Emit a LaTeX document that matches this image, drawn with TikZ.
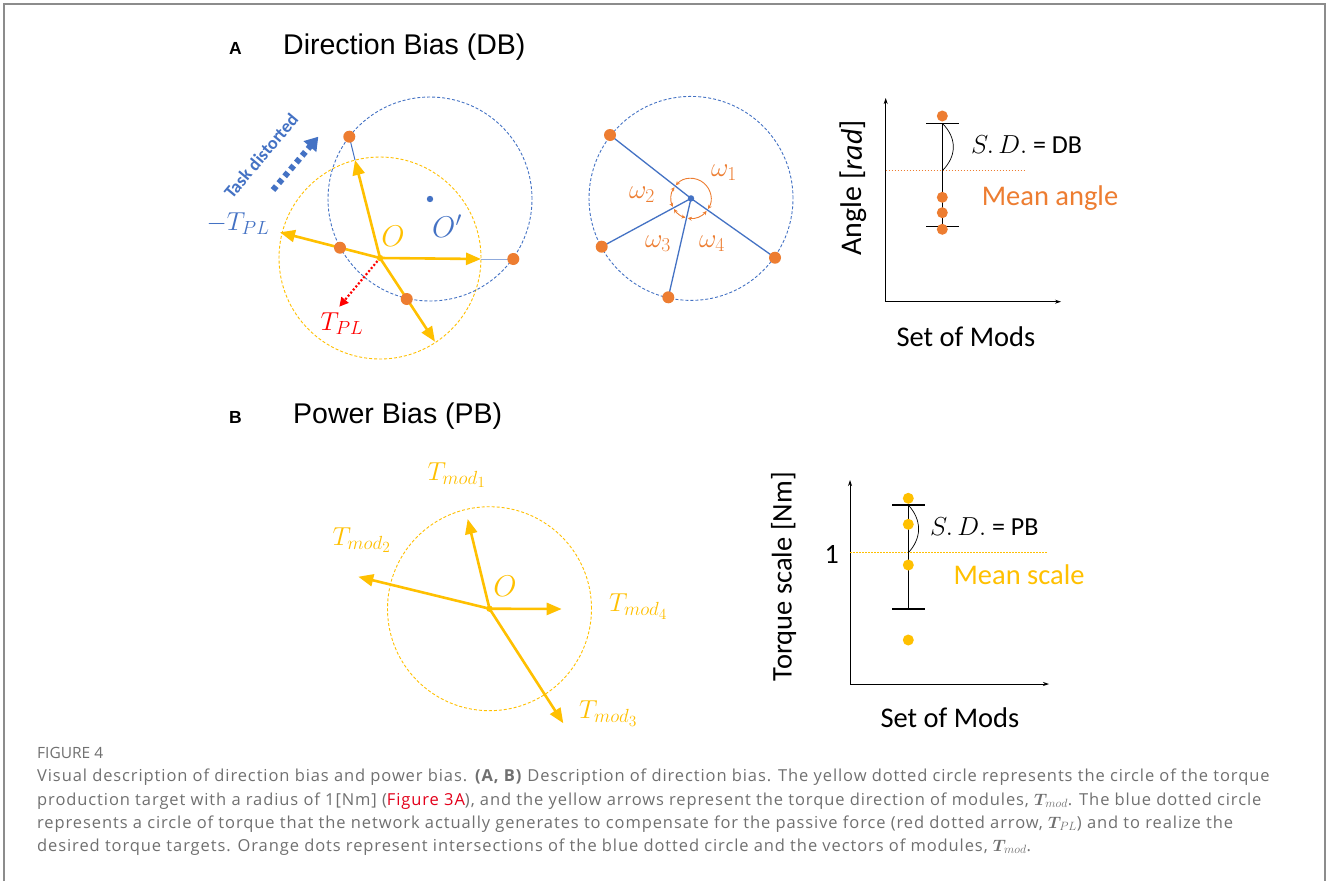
\RequirePackage{fix-cm}
\documentclass[tikz,border=0pt]{standalone}
\usepackage{amsmath}
\usepackage{fontspec}
\setmainfont{Carlito}
\newfontfamily\arial{Liberation Sans}
\newfontfamily\capfont[LetterSpace=5.5]{Open Sans}
\newfontfamily\capfontb{Open Sans}
\usetikzlibrary{arrows.meta}
\DeclareMathSizes{26}{26}{19}{15.5}
\DeclareMathSizes{27}{27}{19.7}{16}
\DeclareMathSizes{30}{30}{21}{16}
\DeclareMathSizes{16.5}{16.5}{12}{9}
\definecolor{yel}{HTML}{FFC000}
\definecolor{ora}{HTML}{ED7D31}
\definecolor{blu}{HTML}{4472C4}
\definecolor{capgray}{HTML}{707070}
\definecolor{framegray}{HTML}{8C8C8C}
\definecolor{figred}{HTML}{E3001B}
\newcommand{\fs}[1]{\fontsize{#1}{#1}\selectfont}
\tikzset{
  ycirc/.style={yel, line width=0.9pt, dash pattern=on 3pt off 2pt},
  bcirc/.style={blu, line width=0.9pt, dash pattern=on 3pt off 2pt},
  yarrow/.style={yel, line width=2.6pt, -{Triangle[length=15pt,width=12pt]}},
  bline/.style={blu, line width=1.3pt},
  odot/.style={ora},
  lab/.style={inner sep=0pt},
  arcarrow/.style={ora, line width=0.9pt, {Stealth[length=4pt,width=4pt]}-{Stealth[length=4pt,width=4pt]}},
  axis/.style={black, line width=0.8pt, -{Stealth[length=6pt,width=4pt]}},
  ebar/.style={black, line width=1.3pt},
  capline/.style={anchor=base west, inner sep=0pt, text=capgray, font=\capfont\fs{16.5}}
}
\begin{document}
\begin{tikzpicture}[x=1pt,y=-1pt]
\useasboundingbox (0,0) rectangle (1327,881);
\fill[white] (0,0) rectangle (1327,881);
\draw[framegray, line width=2pt] (3.5,881) -- (3.5,4) -- (1325,4) -- (1325,881);

% ---------------- Titles
\node[lab, anchor=west, font=\arial\bfseries\fs{17.5}] (tA) at (229,48) {A};
\node[lab, anchor=west, font=\arial\fs{28.5}] (tAt) at (283,47) {Direction Bias (DB)};
\node[lab, anchor=west, font=\arial\bfseries\fs{17.5}] (tB) at (229,417) {B};
\node[lab, anchor=west, font=\arial\fs{28.5}] (tBt) at (293,416) {Power Bias (PB)};

% ---------------- Panel A left
\coordinate (O) at (380,258);
\coordinate (Op) at (430,199);
\draw[ycirc] (O) circle (101pt);
\draw[bcirc] (Op) circle (102pt);
\coordinate (A1) at (355,160);
\coordinate (A2) at (280,232.3);
\coordinate (A3) at (481,259);
\coordinate (A4) at (435,341.7);
\coordinate (D1) at (349.3,136.7);
\coordinate (D2) at (340,247.7);
\coordinate (D3) at (513.3,259);
\coordinate (D4) at (406.7,299);
\draw[bline, line width=1pt] (A1) -- (D1);
\draw[bline, line width=1pt, blu!60] (A3) -- (D3);
\draw[red, line width=2.2pt, dash pattern=on 2pt off 2pt, -{Triangle[length=9pt,width=9pt]}] (O) -- (339.3,306.7) coordinate (R);
\draw[yarrow] (O) -- (A1);
\draw[yarrow] (O) -- (A2);
\draw[yarrow] (O) -- (A3);
\draw[yarrow] (O) -- (A4);
\fill[yel] (O) circle (3.2pt);
\foreach \d in {D1,D2,D3,D4} \fill[odot] (\d) circle (6pt);
\fill[blu] (Op) circle (3.2pt);
\node[lab, text=yel, font=\fs{30}] (Olab) at (393,236) {$O$};
\node[lab, text=blu, font=\fs{30}] (Oplab) at (447,226) {$O'$};
\node[lab, text=blu, font=\fs{26}] (mtpl) at (238,224) {$-T_{PL}$};
\node[lab, text=red, font=\fs{26}] (tpl) at (342,324) {$T_{PL}$};
\coordinate (TD1) at (273,190);
\coordinate (TD2) at (318.3,136.7);
\draw[blu, line width=6pt, dash pattern=on 5pt off 4pt, -{Triangle[length=13pt,width=16pt]}] (TD1) -- (TD2);
\node[lab, text=blu, rotate=50, font=\bfseries\fs{18}] (tdl) at (261,156) {Task distorted};

% ---------------- Panel A middle
\coordinate (C) at (691,198.4);
\draw[bcirc] (C) circle (102pt);
\coordinate (M1) at (610,135);
\coordinate (M2) at (601.7,246.7);
\coordinate (M3) at (668.3,297.3);
\coordinate (M4) at (775,257.7);
\foreach \m in {M1,M2,M3,M4} \draw[bline] (C) -- (\m);
\foreach \m in {M1,M2,M3,M4} \fill[odot] (\m) circle (6pt);
\fill[blu] (C) circle (3.2pt);
\draw[arcarrow] (C) ++(221:20) arc[start angle=221, end angle=392, radius=20];
\draw[arcarrow] (C) ++(214:20) arc[start angle=214, end angle=155, radius=20];
\draw[arcarrow] (C) ++(148:20) arc[start angle=148, end angle=106, radius=20];
\draw[arcarrow] (C) ++(99:20) arc[start angle=99, end angle=39, radius=20];
\node[lab, text=ora, font=\fs{27}] (w1) at (724,173) {$\omega_1$};
\node[lab, text=ora, font=\fs{27}] (w2) at (642,195) {$\omega_2$};
\node[lab, text=ora, font=\fs{27}] (w3) at (658,244) {$\omega_3$};
\node[lab, text=ora, font=\fs{27}] (w4) at (712,244) {$\omega_4$};

% ---------------- Panel A right
\draw[axis] (885.7,301.7) -- (885.7,98);
\draw[axis] (885.7,301.7) -- (1061,301.7);
\draw[ora, line width=0.8pt, dash pattern=on 1.5pt off 1.5pt] (885.7,170.7) -- (1024,170.7);
\draw[ebar] (942.3,123.3) -- (942.3,226.7);
\draw[ebar] (926,123.3) -- (958.5,123.3);
\draw[ebar] (926,226.7) -- (958.5,226.7);
\draw[black, line width=0.7pt] (942.3,123.3) .. controls (957,138) and (957,156) .. (942.3,170.7);
\foreach \yy in {116,197.3,212.7,229.3} \fill[odot] (942.3,\yy) circle (5.5pt);
\node[lab, anchor=west, font=\fs{26}] (sdA) at (971,145) {$S.\,D.$ = DB};
\node[lab, text=ora, font=\fs{28.5}] (meanA) at (1050,198.5) {Mean angle};
\node[lab, rotate=90, font=\fs{30}] (angA) at (853.5,188) {Angle [$\mathit{rad}$]};
\node[lab, font=\fs{28.5}] (setA) at (966,336.5) {Set of Mods};

% ---------------- Panel B left
\coordinate (OB) at (489.5,608.7);
\draw[ycirc] (OB) circle (102pt);
\coordinate (B1) at (467.7,519);
\coordinate (B2) at (358.3,576.7);
\coordinate (B3) at (563.3,723.3);
\coordinate (B4) at (561.7,609);
\foreach \b in {B1,B2,B3,B4} \draw[yarrow] (OB) -- (\b);
\fill[yel] (OB) circle (3.2pt);
\node[lab, text=yel, font=\fs{30}] (OBlab) at (505,586) {$O$};
\node[lab, text=yel, font=\fs{26}] (tm1) at (456.7,475) {$T_{mod_1}$};
\node[lab, text=yel, font=\fs{26}] (tm2) at (361.7,540) {$T_{mod_2}$};
\node[lab, text=yel, font=\fs{26}] (tm3) at (608.3,713.3) {$T_{mod_3}$};
\node[lab, text=yel, font=\fs{26}] (tm4) at (638.3,606.7) {$T_{mod_4}$};

% ---------------- Panel B right
\draw[axis] (850,684) -- (850,480);
\draw[axis] (850,684) -- (1049,684);
\draw[yel, line width=0.8pt, dash pattern=on 1.5pt off 1.5pt] (850,552.7) -- (1046.7,552.7);
\draw[ebar] (908.3,505) -- (908.3,609);
\draw[ebar] (892,505) -- (924.5,505);
\draw[ebar] (892,609) -- (924.5,609);
\draw[black, line width=0.7pt] (908.3,505) .. controls (922,520) and (922,538) .. (908.3,552.7);
\foreach \yy in {498.3,524.3,565,640} \fill[yel] (908.3,\yy) circle (5.5pt);
\node[lab, anchor=west, font=\fs{26}] (sdB) at (930,526.7) {$S.\,D.$ = PB};
\node[lab, text=yel, font=\fs{28.5}] (meanB) at (1019,575) {Mean scale};
\node[lab, font=\fs{28}] (one) at (831.7,554) {1};
\node[lab, rotate=90, font=\fs{28.5}] (tsB) at (783.5,576.7) {Torque scale [Nm]};
\node[lab, font=\fs{28.5}] (setB) at (950,718) {Set of Mods};

% ---------------- Caption
\node[lab, anchor=base west, text=capgray, font=\capfontb\fs{15.5}] (fig) at (37,758.3) {FIGURE 4};
\node[capline] (c1) at (37,781.7) {Visual description of direction bias and power bias. \textbf{(A, B)} Description of direction bias. The yellow dotted circle represents the circle of the torque};
\node[capline] (c2) at (37,805) {production target with a radius of 1[Nm] ({\color{figred}Figure 3A}), and the yellow arrows represent the torque direction of modules, $\boldsymbol{T}_{\!mod}$. The blue dotted circle};
\node[capline] (c3) at (37,828.3) {represents a circle of torque that the network actually generates to compensate for the passive force (red dotted arrow, $\boldsymbol{T}_{\!PL}$) and to realize the};
\node[capline] (c4) at (37,851) {desired torque targets. Orange dots represent intersections of the blue dotted circle and the vectors of modules, $\boldsymbol{T}_{\!mod}$.};
\end{tikzpicture}
\end{document}
